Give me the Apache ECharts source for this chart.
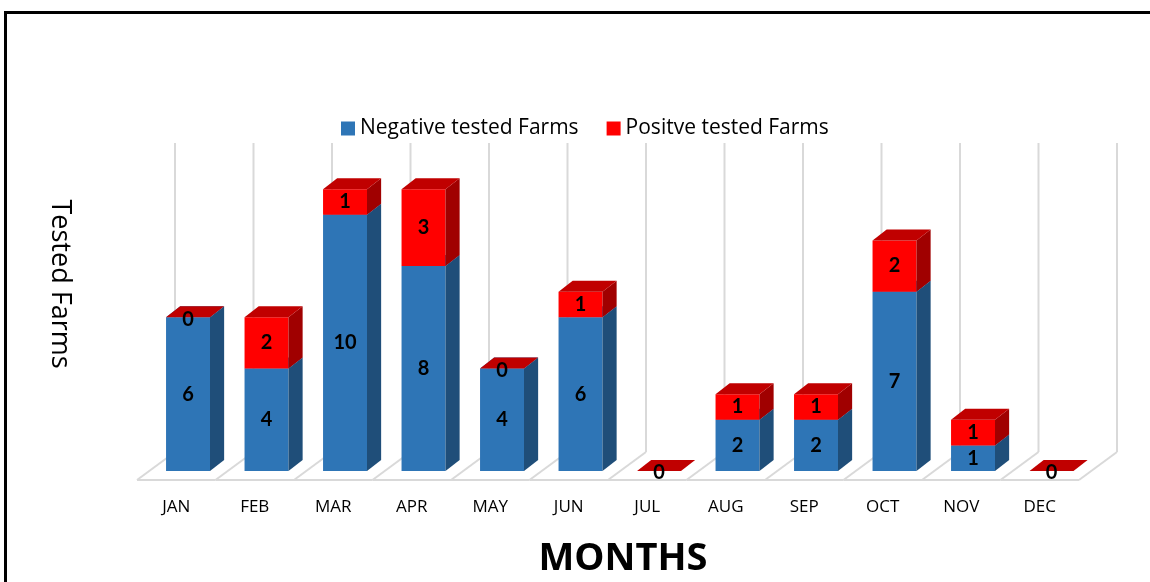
<!DOCTYPE html>
<html><head><meta charset="utf-8">
<script src="https://cdn.jsdelivr.net/npm/echarts@6/dist/echarts.min.js"></script>
<style>html,body{margin:0;padding:0;background:#fff}#c{width:1150px;height:582px}</style>
</head><body><div id="c"></div>
<script>
const months = ['JAN','FEB','MAR','APR','MAY','JUN','JUL','AUG','SEP','OCT','NOV','DEC'];
const negative = [6,4,10,8,4,6,0,2,2,7,1,0];
const positive = [0,2,1,3,0,1,0,1,1,2,1,0];
const seriesNames = ['Negative tested Farms','Positve tested Farms'];
const yMax = 12.8;

const chart = echarts.init(document.getElementById('c'), null, {renderer:'canvas'});

function boxRender(frontC, sideC, topC, isTopSeries) {
  return function(params, api){
    const k = api.value(0), base = api.value(1), v = api.value(2);
    const band = api.size([1,0])[0];
    const c0 = api.coord([k, base]), c1 = api.coord([k, base+v]);
    const left = c0[0] - band*0.13, w = band*0.56, right = left + w;
    const dx = band*0.18, dy = -band*0.14;
    const yb = c0[1], yt = c1[1];
    const children = [];
    if (v <= 0 && !isTopSeries) return {type:'group', children: []};
    if (v > 0) {
      children.push({type:'rect', shape:{x:left, y:yt, width:w, height:yb-yt}, style:{fill:frontC}});
      children.push({type:'polygon', shape:{points:[[right,yb],[right+dx,yb+dy],[right+dx,yt+dy],[right,yt]]}, style:{fill:sideC}});
    }
    children.push({type:'polygon', shape:{points:[[left,yt],[right,yt],[right+dx,yt+dy],[left+dx,yt+dy]]}, style:{fill:topC}});
    children.push({type:'text', x:(left+right)/2, y: v>0 ? (yb+yt)/2 : yt+2,
      style:{text:String(v), font:'bold 20px Lato', fill:'#000', align:'center', verticalAlign:'middle'}});
    return {type:'group', children};
  };
}

function floorRender(params, api){
  const k = api.value(0);
  const band = api.size([1,0])[0];
  const c = api.coord([k, 0]);
  const cTop = api.coord([k, yMax]);
  const fy = c[1] + 9;            // floor front edge
  const ddx = band*0.484, ddy = -band*0.357;
  const lineStyle = {stroke:'#d9d9d9', lineWidth:2, fill:null};
  const xl = c[0] - band/2, xr = c[0] + band/2;
  const children = [
    {type:'line', shape:{x1:xl, y1:fy, x2:xr, y2:fy}, style:lineStyle},
    {type:'line', shape:{x1:xl, y1:fy, x2:xl+ddx, y2:fy+ddy}, style:lineStyle},
    {type:'line', shape:{x1:xl+ddx, y1:fy+ddy, x2:xl+ddx, y2:cTop[1]}, style:lineStyle}
  ];
  if (k === months.length - 1) {
    children.push({type:'line', shape:{x1:xr, y1:fy, x2:xr+ddx, y2:fy+ddy}, style:lineStyle});
    children.push({type:'line', shape:{x1:xr+ddx, y1:fy+ddy, x2:xr+ddx, y2:cTop[1]}, style:lineStyle});
  }
  return {type:'group', children};
}

chart.setOption({
  animation:false,
  backgroundColor:'#fff',
  grid:{left:137, right:71, top:143, bottom:111},
  legend:{
    data:seriesNames, left:336, top:113, icon:'rect', itemWidth:14, itemHeight:14, itemGap:28,
    textStyle:{fontFamily:'Open Sans', fontSize:21, color:'#000'}
  },
  xAxis:{
    type:'category', data:months,
    axisLine:{show:false}, axisTick:{show:false}, splitLine:{show:false},
    axisLabel:{margin:28, fontFamily:'Open Sans', fontSize:17, color:'#000'}
  },
  yAxis:{
    type:'value', min:0, max:yMax, show:false
  },
  graphic:[
    {type:'rect', shape:{x:5.5, y:12.5, width:1300, height:700}, style:{fill:null, stroke:'#000', lineWidth:3}, silent:true},
    {type:'text', x:60, y:284, rotation:-Math.PI/2,
      style:{text:'Tested Farms', font:'27px "Open Sans"', fill:'#000', align:'center', verticalAlign:'middle'}},
    {type:'text', x:623, y:559,
      style:{text:'MONTHS', font:'bold 38px "Open Sans"', fill:'#000', align:'center', verticalAlign:'middle'}}
  ],
  series:[
    {type:'custom', name:'floor', renderItem:floorRender, data:months.map((m,i)=>[i,0]), encode:{x:0,y:1}, silent:true, z:1},
    {type:'custom', name:seriesNames[0], itemStyle:{color:'#2e75b6'}, z:2,
      renderItem:boxRender('#2e75b6','#1f4e79','#2e75b6', false),
      data:months.map((m,i)=>[i,0,negative[i]]), encode:{x:0,y:2}},
    {type:'custom', name:seriesNames[1], itemStyle:{color:'#ff0000'}, z:3,
      renderItem:boxRender('#ff0000','#a00000','#c00000', true),
      data:months.map((m,i)=>[i,negative[i],positive[i]]), encode:{x:0,y:2}}
  ]
});
</script>
</body></html>
